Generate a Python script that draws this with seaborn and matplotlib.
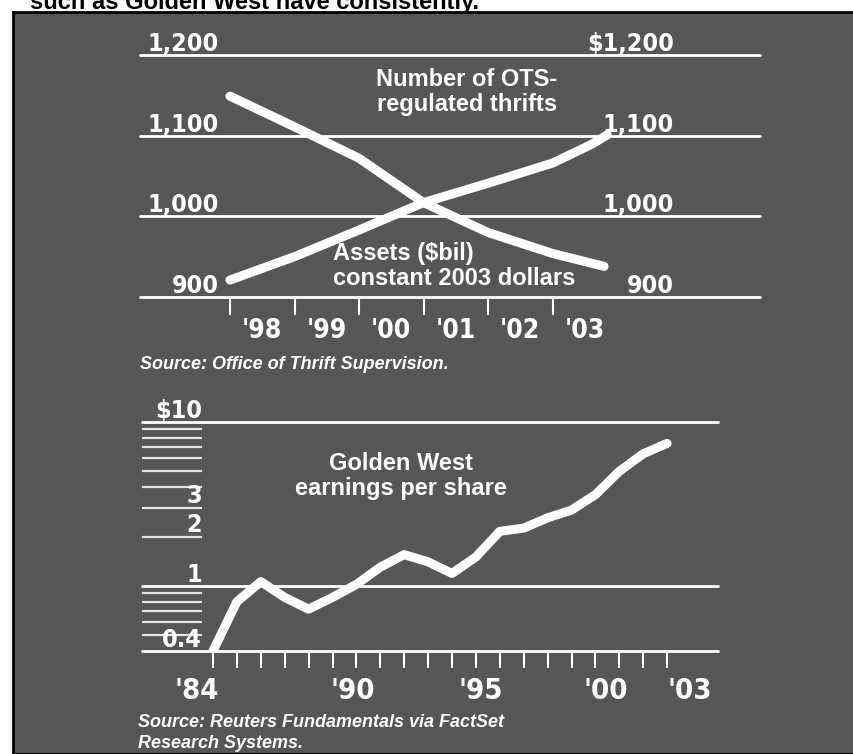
import matplotlib
matplotlib.use("Agg")
import matplotlib.pyplot as plt
import seaborn as sns
import pandas as pd
from matplotlib.transforms import blended_transform_factory as blend

# ---------------- data ----------------
thrift_years = [1998, 1999, 2000, 2001, 2002, 2003, 2003.8]
thrift_count = [1149, 1111, 1072, 1017, 980, 954, 938]
asset_years = [1998, 1999, 2000, 2001, 2002, 2003, 2003.6, 2003.85]
asset_bil = [921, 950, 983, 1017, 1041, 1066, 1089, 1101]

top_year_ticks = [1998, 1999, 2000, 2001, 2002, 2003]
top_year_labels = ["'98", "'99", "'00", "'01", "'02", "'03"]
top_levels = [900, 1000, 1100, 1200]
top_left_labels = ["900", "1,000", "1,100", "1,200"]
top_right_labels = ["900", "1,000", "1,100", "$1,200"]

eps_years = list(range(1984, 2004))
eps_values = [0.40, 0.80, 1.06, 0.85, 0.72, 0.85, 1.02, 1.30, 1.55, 1.40,
              1.19, 1.50, 2.15, 2.25, 2.60, 2.90, 3.60, 5.00, 6.40, 7.40]
eps_major = [0.4, 1, 10]
eps_minor = [0.5, 0.6, 0.7, 0.8, 0.9, 2, 3, 4, 5, 6, 7, 8, 9]
eps_label_vals = [10, 3, 2, 1, 0.4]
eps_label_text = ["$10", "3", "2", "1", "0.4"]
eps_year_labels_at = [1984, 1990, 1995, 2000, 2003]
eps_year_labels = ["'84", "'90", "'95", "'00", "'03"]

# ---------------- style ----------------
sns.set_style("white")
plt.rcParams["font.family"] = ["Liberation Sans", "DejaVu Sans"]
NUM = dict(family="DejaVu Sans", fontstretch="condensed", fontweight="bold", color="white")
BG = "#565656"
W, H = 854, 754

def fx(px):
    return px / W

def fy(py):
    return 1 - py / H

fig = plt.figure(figsize=(W / 100, H / 100), dpi=100)
fig.patch.set_facecolor("white")

# header text (cut off at top, as in the clipping)
fig.text(fx(30), fy(9), "such as Golden West have consistently.", fontsize=17,
         fontweight="bold", color="black", ha="left", va="baseline")

# dark panel
bg = fig.add_axes([fx(13), 0, 1 - fx(13) + 0.01, fy(12)])
bg.set_facecolor(BG)
bg.set_xticks([]); bg.set_yticks([])
for s in bg.spines.values():
    s.set_color("black"); s.set_linewidth(2)

# ---------------- top chart ----------------
ax = fig.add_axes([fx(140), fy(297), fx(760) - fx(140), fy(55) - fy(297)])
ax.set_facecolor("none")
ax.set_xlim(1998 + (140 - 230) / 64.5, 1998 + (760 - 230) / 64.5)
ax.set_ylim(900, 1200)
for s in ax.spines.values():
    s.set_visible(False)
for v in top_levels:
    ax.axhline(v, color="white", lw=2, clip_on=False, zorder=1)

df_top = pd.concat([
    pd.DataFrame({"year": thrift_years, "value": thrift_count, "series": "thrifts"}),
    pd.DataFrame({"year": asset_years, "value": asset_bil, "series": "assets"}),
])
sns.lineplot(data=df_top, x="year", y="value", hue="series",
             palette={"thrifts": "white", "assets": "white"}, linewidth=6.5,
             legend=False, ax=ax, sort=False, solid_capstyle="round", zorder=3)
ax.set_xlabel(""); ax.set_ylabel("")
ax.set_yticks([])
ax.set_xticks(top_year_ticks)
ax.set_xticklabels([])
ax.tick_params(axis="x", which="major", length=13, width=1.5, color="white",
               direction="out", bottom=True)
ax.set_xticks([y + 0.5 for y in top_year_ticks], minor=True)
ax.set_xticklabels(top_year_labels, minor=True, fontsize=19, **NUM)
ax.tick_params(axis="x", which="minor", length=0, pad=15, bottom=True)

tr = blend(ax.transAxes, ax.transData)
for v, l, r in zip(top_levels, top_left_labels, top_right_labels):
    ax.annotate(l, xy=(0.127, v), xycoords=tr, xytext=(0, 3), textcoords="offset points",
                ha="right", va="baseline", fontsize=18, annotation_clip=False, **NUM)
    ax.annotate(r, xy=(0.861, v), xycoords=tr, xytext=(0, 3), textcoords="offset points",
                ha="right", va="baseline", fontsize=18, annotation_clip=False, **NUM)

fig.text(fx(467), fy(92), "Number of OTS-\nregulated thrifts", ha="center", va="center",
         fontsize=17, fontweight="bold", color="white", linespacing=1.15)
fig.text(fx(333), fy(266), "Assets ($bil)\nconstant 2003 dollars", ha="left", va="center",
         fontsize=17, fontweight="bold", color="white", linespacing=1.15)
fig.text(fx(140), fy(365), "Source: Office of Thrift Supervision.", ha="left", va="center",
         fontsize=13, fontweight="bold", fontstyle="italic", color="white")

# ---------------- bottom chart ----------------
bx = fig.add_axes([fx(142), fy(651), fx(718) - fx(142), fy(422) - fy(651)])
bx.set_facecolor("none")
bx.set_yscale("log")
bx.set_ylim(0.4, 10)
bx.set_xlim(1984 + (142 - 213) / 23.9, 1984 + (718 - 213) / 23.9)
for s in bx.spines.values():
    s.set_visible(False)
for v in eps_major:
    bx.axhline(v, color="white", lw=2, clip_on=False, zorder=1)
trb = blend(bx.transAxes, bx.transData)
bx.hlines(eps_minor, 0, (202 - 142) / 576, transform=trb, color="white", lw=1.6,
          alpha=0.85, zorder=1)

sns.lineplot(x=eps_years, y=eps_values, color="white", linewidth=6.5, ax=bx,
             solid_capstyle="round", zorder=3)
bx.set_yticks([], minor=False)
bx.set_yticks([], minor=True)
bx.set_xticks(eps_years)
bx.set_xticklabels([])
bx.tick_params(axis="x", which="major", length=12, width=1.5, color="white",
               direction="out", bottom=True)
label_offsets = [-0.7, -0.15, 0.2, 0.45, 0.95]
bx.set_xticks([y + o for y, o in zip(eps_year_labels_at, label_offsets)], minor=True)
bx.set_xticklabels(eps_year_labels, minor=True, fontsize=21, **NUM)
bx.tick_params(axis="x", which="minor", length=0, pad=19, bottom=True)

for v, t in zip(eps_label_vals, eps_label_text):
    bx.annotate(t, xy=(0.104, v), xycoords=trb, xytext=(0, 3), textcoords="offset points",
                ha="right", va="baseline", fontsize=18, annotation_clip=False, **NUM)

fig.text(fx(401), fy(476), "Golden West\nearnings per share", ha="center", va="center",
         fontsize=17, fontweight="bold", color="white", linespacing=1.15)
fig.text(fx(138), fy(733), "Source: Reuters Fundamentals via FactSet\nResearch Systems.",
         ha="left", va="center", fontsize=13, fontweight="bold", fontstyle="italic",
         color="white", linespacing=1.3)

fig.savefig("out.png", dpi=100, facecolor=fig.get_facecolor())
